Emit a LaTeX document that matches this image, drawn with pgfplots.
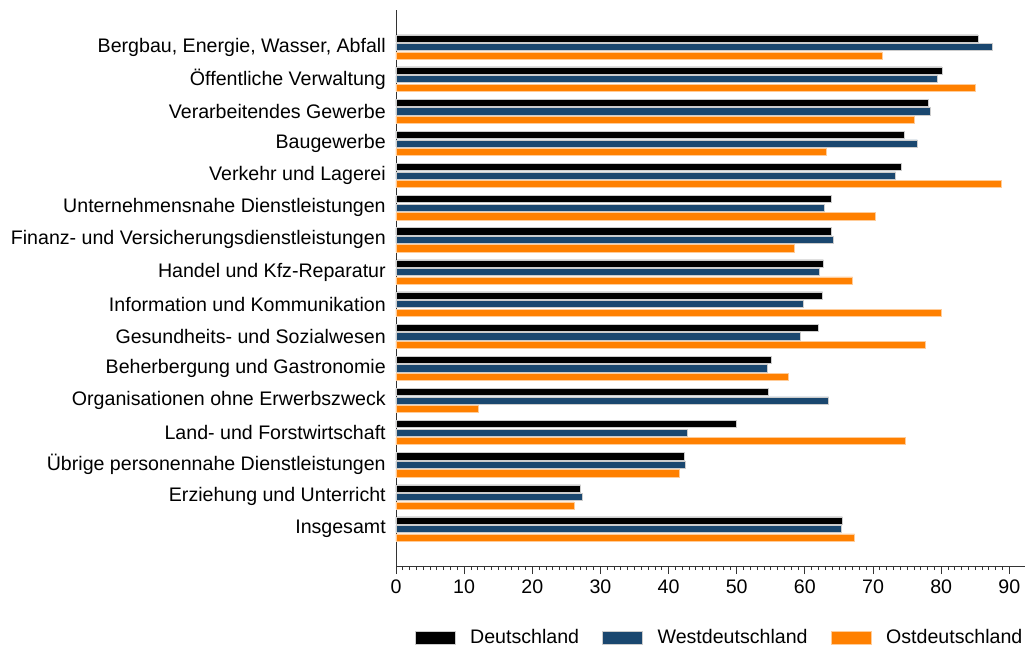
\documentclass[border=0pt]{standalone}
\usepackage{fontspec}
\setmainfont{Liberation Sans}
\usepackage{pgfplots}
\pgfplotsset{compat=1.18}
\definecolor{navy}{RGB}{26,71,111}
\definecolor{orng}{RGB}{255,128,0}
\begin{document}
\fontsize{14.7}{17}\selectfont
\begin{tikzpicture}
\useasboundingbox (-297pt,-63pt) rectangle (472.5pt,424.5pt);
\begin{axis}[
  width=471.75pt, height=417pt, scale only axis,
  xbar, bar width=5.4pt,
  xmin=0, xmax=92.3, ymin=-1.15, ymax=16.15, y dir=reverse,
  axis x line=bottom, axis y line=left,
  axis line style={black!80, -},
  tick align=outside,
  xtick={0,10,...,90}, minor xtick={1,...,89},
  major tick length=6pt, minor tick length=3pt,
  tick style={black!80, line width=0.6pt},
  ytick={0,...,15}, y tick style={draw=none},
  yticklabels={{Bergbau, Energie, Wasser, Abfall},
    Öffentliche Verwaltung, Verarbeitendes Gewerbe, Baugewerbe,
    Verkehr und Lagerei, Unternehmensnahe Dienstleistungen,
    Finanz- und Versicherungsdienstleistungen, Handel und Kfz-Reparatur,
    Information und Kommunikation, Gesundheits- und Sozialwesen,
    Beherbergung und Gastronomie, Organisationen ohne Erwerbszweck,
    Land- und Forstwirtschaft, Übrige personennahe Dienstleistungen,
    Erziehung und Unterricht, Insgesamt},
  /pgf/number format/assume math mode=true,
  tick label style={font=\fontsize{14.7}{17}\selectfont},
  yticklabel style={inner sep=0pt, xshift=-1.5pt},
  xticklabel style={inner sep=0pt, yshift=-4pt},
  legend columns=3,
  legend style={at={(0,0)}, anchor=west, xshift=14pt, yshift=-54pt,
    draw=none, inner sep=0pt, font=\fontsize{14.7}{17}\selectfont,
    nodes={inner sep=0pt},
    /tikz/every odd column/.append style={column sep=11pt},
    /tikz/every even column/.append style={column sep=17.5pt}},
  legend image code/.code={\fill[#1] (0pt,-4.9pt) rectangle (30pt,4.9pt);},
]
\addplot[fill=black, draw=gray!40, line width=0.4pt, bar shift=6.4pt] coordinates {
(85.4,0) (80.1,1) (78.1,2) (74.6,3) (74.1,4) (63.9,5) (63.8,6) (62.7,7)
(62.6,8) (61.9,9) (55.0,10) (54.6,11) (49.9,12) (42.3,13) (27.1,14) (65.5,15)};
\addplot[fill=navy, draw=gray!40, line width=0.4pt, bar shift=0pt] coordinates {
(87.5,0) (79.4,1) (78.4,2) (76.5,3) (73.3,4) (62.8,5) (64.2,6) (62.1,7)
(59.8,8) (59.3,9) (54.5,10) (63.5,11) (42.7,12) (42.4,13) (27.3,14) (65.3,15)};
\addplot[fill=orng, draw=orng!40, line width=0.4pt, bar shift=-6.4pt] coordinates {
(71.3,0) (85.0,1) (76.1,2) (63.1,3) (88.8,4) (70.4,5) (58.4,6) (67.0,7)
(80.0,8) (77.6,9) (57.5,10) (12.1,11) (74.8,12) (41.6,13) (26.1,14) (67.3,15)};
\legend{Deutschland, Westdeutschland, Ostdeutschland}
\end{axis}
\end{tikzpicture}
\end{document}
